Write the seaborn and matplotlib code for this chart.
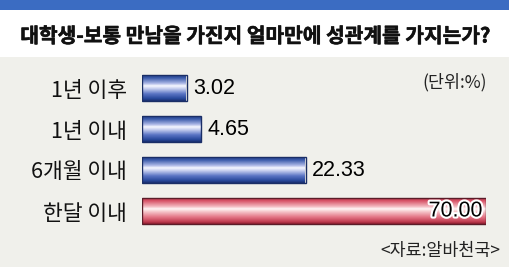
import numpy as np
import pandas as pd
import matplotlib
matplotlib.use("Agg")
import matplotlib.pyplot as plt
import seaborn as sns
from matplotlib.colors import LinearSegmentedColormap
from matplotlib.patches import Rectangle
import matplotlib.patheffects as pe

# ---------------- data ----------------
title = "대학생-보통 만남을 가진지 얼마만에 성관계를 가지는가?"
categories = ["1년 이후", "1년 이내", "6개월 이내", "한달 이내"]
values = [3.02, 4.65, 22.33, 70.00]
value_labels = ["3.02", "4.65", "22.33", "70.00"]
unit_note = "(단위:%)"
source_note = "<자료:알바천국>"
highlight = "한달 이내"

# ---------------- style ----------------
sns.set_theme(style="white")
plt.rcParams["font.family"] = ["Noto Sans CJK KR", "DejaVu Sans"]
num_family = ["Liberation Sans Narrow", "Liberation Sans", "DejaVu Sans"]

W, H = 510, 267
fig = plt.figure(figsize=(W / 100, H / 100), dpi=100, facecolor="#f0f0eb")
fig.patches.append(Rectangle((0, 1 - 57 / H), 1, 47 / H, transform=fig.transFigure,
                             facecolor="white", edgecolor="none", zorder=0))
fig.patches.append(Rectangle((0, 1 - 10 / H), 1, 10 / H, transform=fig.transFigure,
                             facecolor="#3b6cc2", edgecolor="none", zorder=0))

ax = fig.add_axes([142 / W, 1 - 231.5 / H, 344 / W, 164 / H])
ax.set_facecolor("none")

df = pd.DataFrame({"category": categories, "value": values})
base = {c: ("#c84456" if c == highlight else "#2e4f9f") for c in categories}
sns.barplot(data=df, x="value", y="category", hue="category", palette=base,
            legend=False, width=0.65, orient="h", ax=ax)

# designer-style compressed value axis (power scale)
p = 0.65
ax.set_xscale("function", functions=(lambda x: np.power(np.clip(x, 0, None), p),
                                     lambda x: np.power(np.clip(x, 0, None), 1 / p)))

blue_cmap = LinearSegmentedColormap.from_list("blue", [
    (0.0, "#1e3a80"), (0.15, "#3a5aaa"), (0.35, "#a8b4e4"), (0.45, "#f6f7ff"),
    (0.55, "#c8d0f0"), (0.75, "#5a74c4"), (0.92, "#2a4a9c"), (1.0, "#1c3478")])
red_cmap = LinearSegmentedColormap.from_list("red", [
    (0.0, "#b02c40"), (0.15, "#d8566a"), (0.35, "#f2b4bc"), (0.45, "#fff6f6"),
    (0.55, "#f6c8cc"), (0.75, "#e47888"), (0.92, "#c44054"), (1.0, "#9a2436")])
grad = np.linspace(0, 1, 256).reshape(-1, 1)

for patch, cat in zip(ax.patches, categories):
    x0, y0 = patch.get_xy()
    w, h = patch.get_width(), patch.get_height()
    cmap = red_cmap if cat == highlight else blue_cmap
    im = ax.imshow(grad, extent=(x0, x0 + w, y0 + h, y0), aspect="auto", cmap=cmap,
                   interpolation="bilinear", origin="upper", zorder=2)
    im.set_clip_path(patch)
    patch.set_facecolor("none")
    patch.set_edgecolor("#5a1c28" if cat == highlight else "#1a2e66")
    patch.set_linewidth(1.0)
    patch.set_zorder(3)

for i, (cat, v, lab) in enumerate(zip(categories, values, value_labels)):
    if cat == highlight:
        ax.annotate(lab, (v, i), xytext=(-2.2, 0), textcoords="offset points",
                    ha="right", va="center", fontsize=15.5, family=num_family,
                    color="black", zorder=5,
                    path_effects=[pe.withStroke(linewidth=3, foreground="white")])
    else:
        ax.annotate(lab, (v, i), xytext=(4.5, 0), textcoords="offset points",
                    ha="left", va="center", fontsize=15.5, family=num_family,
                    color="black", zorder=5)

ax.set_xlim(0, 70)
ax.set_ylim(3.5, -0.5)
ax.set_xlabel("")
ax.set_ylabel("")
ax.set_xticks([])
ax.tick_params(axis="y", length=0, pad=10.8, labelsize=15.5, colors="#111111")
for s in ax.spines.values():
    s.set_visible(False)

fig.text(0.5, 1 - 36 / H, title, ha="center", va="center", fontsize=14.6,
         fontweight="bold", color="#111111",
         path_effects=[pe.withStroke(linewidth=0.4, foreground="#111111")])
fig.text(487 / W, 1 - 82 / H, unit_note, ha="right", va="center", fontsize=12.5,
         color="#222222")
fig.text(500 / W, 1 - 251 / H, source_note, ha="right", va="center", fontsize=12.5,
         color="#222222")

fig.savefig("out.png", dpi=100, facecolor=fig.get_facecolor())
